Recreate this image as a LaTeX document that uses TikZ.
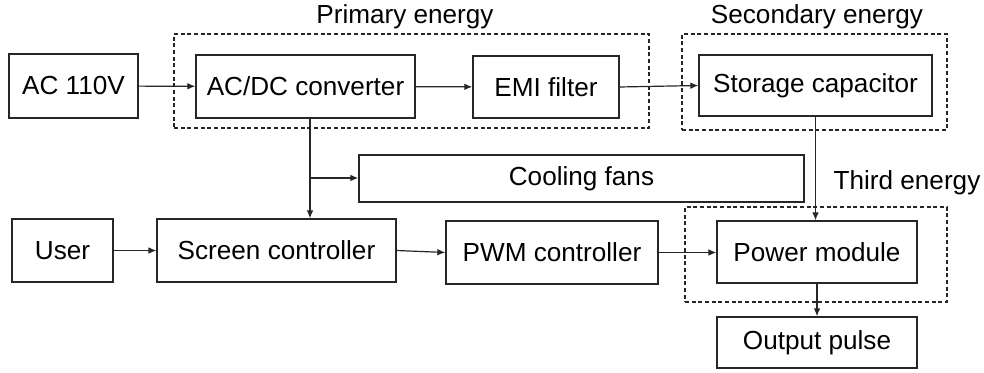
\documentclass[tikz,border=0pt]{standalone}
\usepackage{fontspec}
\setmainfont{Liberation Sans}
\usetikzlibrary{fit,arrows.meta}
\begin{document}
\begin{tikzpicture}[x=0.75pt,y=-0.75pt,
  every node/.style={font=\fontsize{19.6}{23}\selectfont},
  box/.style={draw=black!85, line width=1pt, inner sep=0pt},
  group/.style={draw=black!85, line width=0.9pt, dash pattern=on 3pt off 2pt, inner sep=0pt},
  arr/.style={draw=black!85, line width=0.9pt, -{Latex[length=6pt,width=5pt]}},
  lbl/.style={inner sep=0pt}]
\useasboundingbox (0,0) rectangle (984,373);
% group frames
\node[group, fit={(174,34)(649,128)}] (g1) {};
\node[group, fit={(682,34)(947,130)}] (g2) {};
\node[group, fit={(685,207)(947,302)}] (g3) {};
\node[lbl] (l1) at (405,17) {Primary energy};
\node[lbl] (l2) at (817,17) {Secondary energy};
\node[lbl] (l3) at (907,183) {Third energy};
% boxes
\node[box, fit={(9,54)(138,118)}, label={[lbl]center:AC 110V}] (ac) {};
\node[box, fit={(196,55)(415,118)}, label={[lbl]center:AC/DC converter}] (acdc) {};
\node[box, fit={(473,56)(619,118)}, label={[lbl]center:EMI filter}] (emi) {};
\node[box, fit={(699,55)(932,116)}, label={[lbl]center:Storage capacitor}] (stor) {};
\node[box, fit={(359,155)(804,202)}, label={[lbl]center:Cooling fans}] (cool) {};
\node[box, fit={(12,219)(113,282)}, label={[lbl]center:User}] (user) {};
\node[box, fit={(157,219)(396,282)}, label={[lbl]center:Screen controller}] (scr) {};
\node[box, fit={(446,221)(658,284)}, label={[lbl]center:PWM controller}] (pwm) {};
\node[box, fit={(717,221)(917,283)}, label={[lbl]center:Power module}] (pow) {};
\node[box, fit={(717,317)(917,368)}, label={[lbl]center:Output pulse}] (out) {};
% connectors
\coordinate (j) at (310,178);
\draw[arr] (ac) -- (acdc);
\draw[arr] (acdc) -- (emi);
\draw[arr] (emi.east) -- (stor.west);
\draw[draw=black!85, line width=0.9pt] (acdc.south -| j) -- (j);
\draw[arr] (j) -- (j |- scr.north);
\draw[arr] (j) -- (j -| cool.west);
\draw[arr] (stor.south) -- (stor.south |- pow.north);
\draw[arr] (user) -- (scr);
\draw[arr] (scr.east) -- (pwm.west);
\draw[arr] (pwm.east) -- (pwm.east -| pow.west);
\draw[arr] (pow) -- (out);
\end{tikzpicture}
\end{document}
